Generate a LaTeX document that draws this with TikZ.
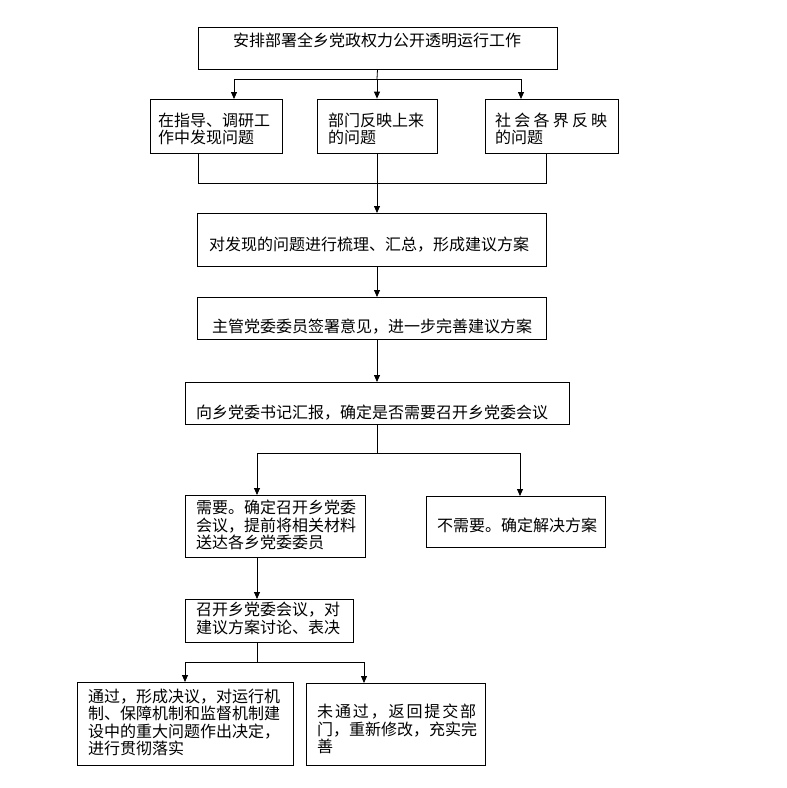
\documentclass[tikz,border=0pt]{standalone}
\usepackage{fontspec}
\newfontfamily\cjk{Noto Sans CJK SC}
\usetikzlibrary{arrows.meta}
\begin{document}
\begin{tikzpicture}[x=1pt,y=-1pt,
  box/.style={draw=black,line width=0.8pt,rectangle,inner sep=0pt},
  txt/.style={anchor=west,inner sep=0pt,align=left,font=\cjk\fontsize{16}{17.5}\selectfont},
  ln/.style={draw=black,line width=0.8pt},
  arr/.style={ln,-{Triangle[width=6pt,length=7pt]}}]
\fill[white] (0,0) rectangle (787,788);
\useasboundingbox (0,0) rectangle (787,788);
% boxes
\node[box,minimum width=359pt,minimum height=42pt] (b1) at (377.5,48) {};
\node[box,minimum width=132pt,minimum height=54pt] (b2a) at (216,126) {};
\node[box,minimum width=120pt,minimum height=54pt] (b2b) at (377,126) {};
\node[box,minimum width=133pt,minimum height=54pt] (b2c) at (551.5,126) {};
\node[box,minimum width=349pt,minimum height=53pt] (b3) at (371.5,239.5) {};
\node[box,minimum width=349pt,minimum height=42pt] (b4) at (371.5,318) {};
\node[box,minimum width=384pt,minimum height=42pt] (b5) at (377,403) {};
\node[box,minimum width=180pt,minimum height=62pt] (b6a) at (275,526) {};
\node[box,minimum width=179pt,minimum height=51pt] (b6b) at (515.5,521.5) {};
\node[box,minimum width=168pt,minimum height=43pt] (b7) at (269,620.5) {};
\node[box,minimum width=216pt,minimum height=83pt] (b8a) at (185,723.5) {};
\node[box,minimum width=179pt,minimum height=82pt] (b8b) at (395.5,724) {};
% texts
\node[txt] (t1) at (233,40) {安排部署全乡党政权力公开透明运行工作};
\node[txt] (t2a) at (158,129) {在指导、调研工\\作中发现问题};
\node[txt] (t2b) at (328,129) {部门反映上来\\的问题};
\node[txt] (t2c) at (495,129) {\makebox[112pt][l]{社\hfill 会\hfill 各\hfill 界\hfill 反\hfill 映}\\的问题};
\node[txt] (t3) at (209,245) {对发现的问题进行梳理、汇总，形成建议方案};
\node[txt] (t4) at (212,327) {主管党委委员签署意见，进一步完善建议方案};
\node[txt] (t5) at (196,413) {向乡党委书记汇报，确定是否需要召开乡党委会议};
\node[txt] (t6a) at (196,525) {需要。确定召开乡党委\\会议，提前将相关材料\\送达各乡党委委员};
\node[txt] (t6b) at (437,525) {不需要。确定解决方案};
\node[txt] (t7) at (196,618.5) {召开乡党委会议，对\\建议方案讨论、表决};
\node[txt] (t8a) at (88,722.5) {通过，形成决议，对运行机\\制、保障机制和监督机制建\\设中的重大问题作出决定，\\进行贯彻落实};
\node[txt] (t8b) at (317,729) {\makebox[159pt][l]{未\hfill 通\hfill 过\hfill ，\hfill 返\hfill 回\hfill 提\hfill 交\hfill 部}\\门，重新修改，充实完\\善};
% connector points
\coordinate (j1) at (377,79);
\coordinate (a2a) at (234,99);
\coordinate (a2c) at (521,99);
\coordinate (o2a) at (198,153);
\coordinate (o2c) at (546,153);
\coordinate (j2) at (377,183);
\coordinate (a3) at (377,213);
\coordinate (o3) at (377,266);
\coordinate (a4) at (377,297);
\coordinate (o4) at (377,339);
\coordinate (a5) at (377,382);
\coordinate (j5) at (377,453);
\coordinate (a6a) at (257,495);
\coordinate (a6b) at (520,496);
\coordinate (o6a) at (257,557);
\coordinate (a7) at (257,599);
\coordinate (o7) at (257,642);
\coordinate (j7) at (257,662);
\coordinate (a8a) at (185,682);
\coordinate (a8b) at (364,683);
% connectors
\draw[ln] (b1.south) -- (j1);
\draw[arr] (j1) -| (a2a);
\draw[arr] (j1) -| (a2c);
\draw[arr] (j1) -- (b2b.north);
\draw[ln] (o2a) |- (j2);
\draw[ln] (o2c) |- (j2);
\draw[ln] (b2b.south) -- (j2);
\draw[arr] (j2) -- (a3);
\draw[arr] (o3) -- (a4);
\draw[arr] (o4) -- (a5);
\draw[ln] (b5.south) -- (j5);
\draw[arr] (j5) -| (a6a);
\draw[arr] (j5) -| (a6b);
\draw[arr] (o6a) -- (a7);
\draw[ln] (o7) -- (j7);
\draw[arr] (j7) -| (a8a);
\draw[arr] (j7) -| (a8b);
\end{tikzpicture}
\end{document}
